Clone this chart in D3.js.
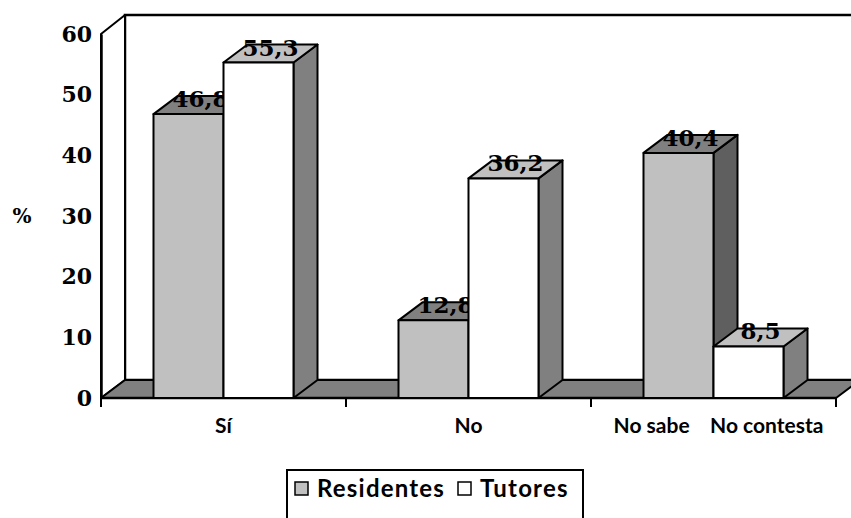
<!DOCTYPE html>
<html>
<head>
<meta charset="utf-8">
<script src="https://cdn.jsdelivr.net/npm/d3@7"></script>
<style>
  html, body { margin: 0; padding: 0; background: #fff; }
  svg { display: block; }
  .cat { white-space: pre; }
</style>
</head>
<body>
<svg id="chart" width="851" height="518"></svg>
<script>
// Categories and series
const categories = ["Sí", "No", "No sabe    No contesta"];
const seriesNames = ["Residentes", "Tutores"];
const residentes = [46.8, 12.8, 40.4];
const tutores = [55.3, 36.2, 8.5];
const yTicks = [0, 10, 20, 30, 40, 50, 60];

const seriesValues = [residentes, tutores];
const faceColors = {
  Residentes: { front: "#c0c0c0", top: "#808080", side: "#5f5f5f" },
  Tutores:    { front: "#ffffff", top: "#c0c0c0", side: "#808080" }
};

const esLocale = d3.formatLocale({ decimal: ",", thousands: ".", grouping: [3], currency: ["", " €"] });
const fmt = esLocale.format(".1f");

const svg = d3.select("#chart");

// Front plane geometry and 3D depth offset
const left = 101, right = 836, base = 398, topY = 34;
const depthX = 24, depthY = 18;

const x = d3.scaleBand().domain(categories).range([left, right]).paddingInner(0).paddingOuter(0);
const xs = d3.scaleBand().domain(seriesNames).range([0, x.bandwidth()]).paddingInner(0).paddingOuter(0.75);
const y = d3.scaleLinear().domain([0, 60]).range([base, topY]);

const line = d3.line();
const poly = pts => line(pts) + "Z";

// Back wall
svg.append("path")
  .attr("d", poly([[left + depthX, y(60) - depthY - 1], [right + depthX + 40, y(60) - depthY - 1],
                   [right + depthX + 40, base - depthY], [left + depthX, base - depthY]]))
  .attr("fill", "#fff").attr("stroke", "#000").attr("stroke-width", 2.5);

// Left wall
svg.append("path")
  .attr("d", poly([[left, base], [left, y(60)], [left + depthX, y(60) - depthY - 1], [left + depthX, base - depthY]]))
  .attr("fill", "#fff").attr("stroke", "#000").attr("stroke-width", 2).attr("stroke-linejoin", "round");

// Floor
svg.append("path")
  .attr("d", poly([[left, base], [right, base], [right + depthX, base - depthY], [left + depthX, base - depthY]]))
  .attr("fill", "#808080").attr("stroke", "#000").attr("stroke-width", 2).attr("stroke-linejoin", "round");

// Y axis (front edge of the left wall) with its labels
const yAxis = d3.axisLeft(y).tickValues(yTicks).tickSizeInner(0).tickSizeOuter(0).tickPadding(9);
const yg = svg.append("g").attr("transform", `translate(${left},0)`).call(yAxis);
yg.select(".domain").attr("stroke", "#000").attr("stroke-width", 2.5);
yg.selectAll("text")
  .attr("font-family", "DejaVu Serif").attr("font-weight", "bold").attr("font-size", 22)
  .attr("fill", "#000");

// X axis line and category boundary ticks
svg.append("line").attr("x1", left).attr("x2", right).attr("y1", base).attr("y2", base)
  .attr("stroke", "#000").attr("stroke-width", 2.5);
const bounds = categories.map(c => x(c)).concat([x(categories[categories.length - 1]) + x.bandwidth()]);
svg.selectAll("line.tick-x").data(bounds).join("line").attr("class", "tick-x")
  .attr("x1", d => d).attr("x2", d => d).attr("y1", base).attr("y2", base + 9)
  .attr("stroke", "#000").attr("stroke-width", 2);

// Category labels
svg.selectAll("text.cat").data(categories).join("text").attr("class", "cat")
  .attr("x", d => x(d) + x.bandwidth() / 2).attr("y", 433)
  .attr("dx", (d, i) => i === categories.length - 1 ? 5 : 0)
  .attr("text-anchor", "middle")
  .attr("font-family", "Lato").attr("font-weight", "bold").attr("font-size", 21)
  .text(d => d);

// "%" axis title
svg.append("text").attr("x", 22).attr("y", 223).attr("text-anchor", "middle")
  .attr("font-family", "DejaVu Serif").attr("font-weight", "bold").attr("font-size", 20)
  .text("%");

// Bars: front, top and side faces, each followed by its value label
categories.forEach((cat, ci) => {
  seriesNames.forEach((s, si) => {
    const v = seriesValues[si][ci];
    const x0 = x(cat) + xs(s), x1 = x0 + xs.bandwidth();
    const yt = y(v);
    const col = faceColors[s];
    const g = svg.append("g");
    g.append("path").attr("d", poly([[x1, base], [x1, yt], [x1 + depthX, yt - depthY], [x1 + depthX, base - depthY]]))
      .attr("fill", col.side).attr("stroke", "#000").attr("stroke-width", 2).attr("stroke-linejoin", "round");
    g.append("path").attr("d", poly([[x0, yt], [x1, yt], [x1 + depthX, yt - depthY], [x0 + depthX, yt - depthY]]))
      .attr("fill", col.top).attr("stroke", "#000").attr("stroke-width", 2).attr("stroke-linejoin", "round");
    g.append("path").attr("d", poly([[x0, base], [x1, base], [x1, yt], [x0, yt]]))
      .attr("fill", col.front).attr("stroke", "#000").attr("stroke-width", 2).attr("stroke-linejoin", "round");
    g.append("text")
      .attr("x", (x0 + x1) / 2 + depthX / 2).attr("y", yt - 7)
      .attr("text-anchor", "middle")
      .attr("font-family", "DejaVu Serif").attr("font-weight", "bold").attr("font-size", 23)
      .attr("fill", "#000")
      .text(fmt(v));
  });
});

// Legend
const lg = svg.append("g");
lg.append("rect").attr("x", 287).attr("y", 470).attr("width", 296).attr("height", 60)
  .attr("fill", "#fff").attr("stroke", "#000").attr("stroke-width", 2);
const legendX = [295, 458];
seriesNames.forEach((s, i) => {
  lg.append("rect").attr("x", legendX[i]).attr("y", 482).attr("width", 13).attr("height", 13)
    .attr("fill", faceColors[s].front).attr("stroke", "#000").attr("stroke-width", 1.5);
  lg.append("text").attr("x", legendX[i] + 22).attr("y", 497)
    .attr("font-family", "Lato").attr("font-weight", "bold").attr("font-size", 24)
    .attr("letter-spacing", 1.2)
    .text(s);
});
</script>
</body>
</html>
